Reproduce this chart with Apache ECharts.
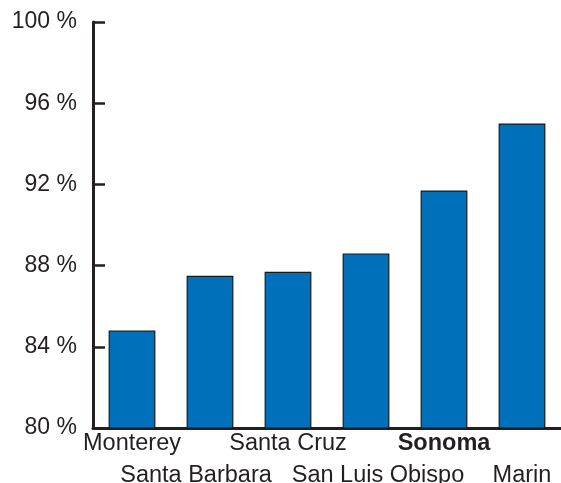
<!DOCTYPE html>
<html>
<head>
<meta charset="utf-8">
<script src="https://cdn.jsdelivr.net/npm/echarts@6/dist/echarts.min.js"></script>
<style>html,body{margin:0;padding:0;background:#fff}#c{width:561px;height:483px}</style>
</head>
<body>
<div id="c"></div>
<script>
const categories = ['Monterey', 'Santa Barbara', 'Santa Cruz', 'San Luis Obispo', 'Sonoma', 'Marin'];
const values = [84.8, 87.5, 87.7, 88.6, 91.7, 95.0];
const boldCategory = 'Sonoma';

// label nudges (style only): [paddingLeft, paddingRight]
const labelNudge = {'Santa Barbara': [0, 28], 'San Luis Obispo': [24, 0]};

const ink = '#231f20';
const font = 'Liberation Sans, Arial, Helvetica, sans-serif';
const rich = {};
categories.forEach(function (c, i) {
  const p = labelNudge[c] || [0, 0];
  rich['r' + i] = {
    fontFamily: font, fontSize: 23.5, color: ink, lineHeight: 32,
    fontWeight: c === boldCategory ? 'bold' : 'normal',
    padding: [0, p[1], 0, p[0]]
  };
});
const chart = echarts.init(document.getElementById('c'), null, {renderer: 'canvas'});
chart.setOption({
  animation: false,
  grid: {left: 93, right: 0, top: 22, bottom: 55, containLabel: false, outerBoundsMode: 'none'},
  xAxis: {
    type: 'category',
    data: categories,
    boundaryGap: true,
    axisLine: {lineStyle: {color: ink, width: 3}},
    axisTick: {inside: true, length: 10, lineStyle: {color: ink, width: 2.5}},
    axisLabel: {
      interval: 0,
      hideOverlap: false,
      margin: 0,
      verticalAlign: 'top',
      formatter: function (v, i) {
        return (i % 2 === 1 ? '\n' : '') + '{r' + i + '|' + v + '}';
      },
      rich: rich,
      lineHeight: 32,
      fontFamily: font,
      fontSize: 23.5,
      color: ink
    },
    splitLine: {show: false}
  },
  yAxis: {
    type: 'value',
    min: 80,
    max: 100,
    interval: 4,
    axisLine: {show: true, lineStyle: {color: ink, width: 3}},
    axisTick: {show: true, inside: true, length: 12, lineStyle: {color: ink, width: 2.5}},
    axisLabel: {
      margin: 16,
      formatter: '{value} %',
      fontFamily: font,
      fontSize: 23,
      color: ink
    },
    splitLine: {show: false}
  },
  series: [{
    type: 'bar',
    data: values,
    barWidth: '60%',
    itemStyle: {color: '#0070ba', borderColor: '#1a1a1a', borderWidth: 1.2}
  }]
});
</script>
</body>
</html>
